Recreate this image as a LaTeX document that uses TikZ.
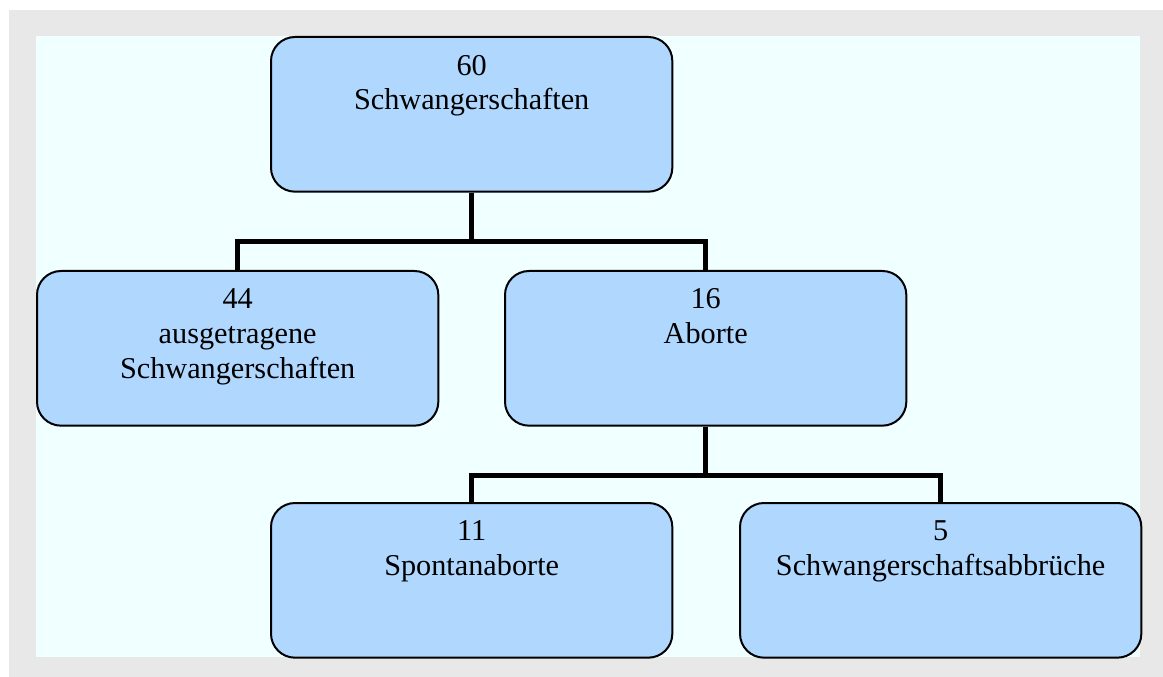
\documentclass[tikz,border=0pt]{standalone}
\usepackage{fontspec}
\setmainfont{Liberation Serif}
\usetikzlibrary{positioning, calc}
\definecolor{framegray}{RGB}{232, 232, 232}
\definecolor{paleazure}{RGB}{240, 255, 255}
\definecolor{boxblue}{RGB}{176, 216, 255}

\begin{document}
\begin{tikzpicture}[
    x=0.75pt, y=-0.75pt,
    boxnode/.style={rectangle, draw=black, fill=boxblue, rounded corners=18pt, line width=1.5pt, minimum width=301pt, minimum height=116pt, anchor=north west, inner sep=0pt},
    boxlabel/.style={anchor=north, align=center, inner sep=0pt, font=\fontsize{22.7}{26}\selectfont},
    link/.style={draw=black, line width=3.75pt}
]

    % background frame
    \useasboundingbox (0, 0) rectangle (1163, 677);
    \fill[framegray] (9, 10) rectangle (1163, 677);
    \fill[paleazure] (36, 36) rectangle (1140, 657);

    % boxes
    \node[boxnode] (total) at (270, 36) {};
    \node[boxnode] (carried) at (36, 270) {};
    \node[boxnode] (abort) at (504, 270) {};
    \node[boxnode] (spont) at (270, 502) {};
    \node[boxnode] (induced) at (739, 502) {};

    % texts
    \node[boxlabel, below=14pt of total.north] (totaltext) {60\\Schwangerschaften};
    \node[boxlabel, below=14pt of carried.north] (carriedtext) {44\\ausgetragene\\Schwangerschaften};
    \node[boxlabel, below=14pt of abort.north] (aborttext) {16\\Aborte};
    \node[boxlabel, below=14pt of spont.north] (sponttext) {11\\Spontanaborte};
    \node[boxlabel, below=14pt of induced.north] (inducedtext) {5\\Schwangerschaftsabbrüche};

    % connectors
    \coordinate (j1) at ($(total.south) + (0, 49)$);
    \coordinate (j2) at ($(abort.south) + (0, 49)$);
    \draw[link] (total.south) -- (j1) -| (carried.north);
    \draw[link] (j1) -| (abort.north);
    \draw[link] (abort.south) -- (j2) -| (spont.north);
    \draw[link] (j2) -| (induced.north);

\end{tikzpicture}
\end{document}
